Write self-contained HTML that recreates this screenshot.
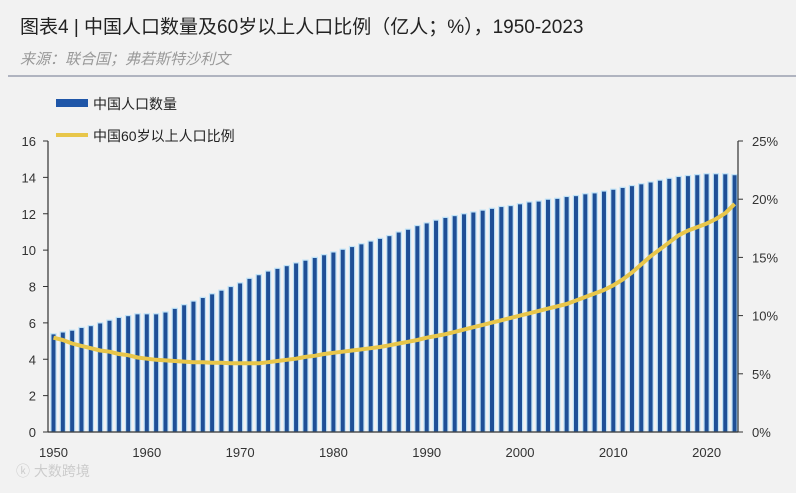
<!DOCTYPE html>
<html><head><meta charset="utf-8">
<style>
body{margin:0;background:#f2f2f2;font-family:"Liberation Sans","Noto Sans CJK SC",sans-serif;}
svg text{font-family:"Liberation Sans","Noto Sans CJK SC",sans-serif;}
</style></head>
<body>
<svg width="796" height="488" viewBox="0 0 796 488">
<rect width="796" height="488" fill="#f2f2f2"/>
<text x="20" y="33" font-size="19" fill="#222">图表4 | 中国人口数量及60岁以上人口比例（亿人；%），1950-2023</text>
<text x="20" y="64" font-size="15" fill="#999" font-style="italic">来源：联合国；弗若斯特沙利文</text>
<line x1="8" y1="76" x2="796" y2="76" stroke="#9aa0b0" stroke-width="1.5"/>
<g>
<rect x="56" y="99" width="32" height="8" fill="#1f56a8"/>
<text x="93" y="109" font-size="14" fill="#222">中国人口数量</text>
<rect x="56" y="133" width="32" height="4" fill="#e8c64a"/>
<text x="93" y="141" font-size="14" fill="#222">中国60岁以上人口比例</text>
</g>
<g id="plot"></g>
<text x="16" y="476" font-size="14" fill="#ccc">ⓚ 大数跨境</text>
</svg>
<script>
const years=[];for(let y=1950;y<=2023;y++)years.push(y);
const population=[5.4,5.5,5.6,5.75,5.85,6.0,6.15,6.3,6.4,6.5,6.5,6.5,6.6,6.8,7.0,7.2,7.4,7.6,7.8,8.0,8.2,8.45,8.65,8.85,9.0,9.15,9.3,9.45,9.6,9.75,9.9,10.05,10.2,10.35,10.5,10.65,10.8,11.0,11.15,11.35,11.5,11.65,11.8,11.9,12.0,12.1,12.2,12.3,12.4,12.45,12.55,12.65,12.7,12.8,12.85,12.95,13.0,13.1,13.15,13.25,13.35,13.45,13.55,13.65,13.75,13.85,13.95,14.05,14.1,14.15,14.2,14.2,14.2,14.15];
const ratio=[8.1,7.9,7.6,7.4,7.2,7.0,6.9,6.7,6.6,6.4,6.3,6.2,6.15,6.1,6.05,6.0,6.0,5.95,5.95,5.9,5.9,5.9,5.9,6.0,6.1,6.2,6.3,6.45,6.55,6.7,6.8,6.9,7.0,7.1,7.2,7.3,7.45,7.6,7.75,7.9,8.1,8.25,8.4,8.6,8.8,9.0,9.2,9.4,9.6,9.8,10.0,10.2,10.4,10.6,10.8,11.0,11.3,11.6,11.9,12.2,12.6,13.1,13.7,14.4,15.1,15.7,16.3,16.9,17.3,17.6,17.9,18.3,18.8,19.6];
const leftTicks=[0,2,4,6,8,10,12,14,16];
const rightTicks=[0,5,10,15,20,25];
const xTicks=[1950,1960,1970,1980,1990,2000,2010,2020];
const NS="http://www.w3.org/2000/svg";
const g=document.getElementById('plot');
const X0=48,X1=738,Y0=432,Y1=141;
const x=yr=>53.5+(yr-1950)*9.33;
const yL=v=>Y0-v/16*(Y0-Y1);
const yR=v=>Y0-v/25*(Y0-Y1);
function el(t,a){const e=document.createElementNS(NS,t);for(const k in a)e.setAttribute(k,a[k]);g.appendChild(e);return e;}
years.forEach((yr,i)=>{
 const r=el('rect',{x:x(yr)-2.6,y:yL(population[i]),width:5.2,height:Y0-yL(population[i]),fill:'#1f4f96',stroke:'#bfe2f7','stroke-width':1.2});
 
 
});
let d='';years.forEach((yr,i)=>{d+=(i?'L':'M')+x(yr).toFixed(1)+','+yR(ratio[i]).toFixed(1);});
const p=el('path',{d:d,fill:'none',stroke:'#e8c64a','stroke-width':4,'stroke-linejoin':'round'});


const la=el('line',{x1:X0,y1:Y1,x2:X0,y2:Y0,stroke:'#333','stroke-width':1.2});


const ra=el('line',{x1:X1,y1:Y1,x2:X1,y2:Y0,stroke:'#333','stroke-width':1.2});


const xa=el('line',{x1:X0,y1:Y0,x2:X1,y2:Y0,stroke:'#333','stroke-width':1.2});


leftTicks.forEach(v=>{
 el('line',{x1:X0-5,y1:yL(v),x2:X0,y2:yL(v),stroke:'#333'});
 const t=el('text',{x:X0-12,y:yL(v)+5,'font-size':13,fill:'#333','text-anchor':'end'});t.textContent=v;
 
 
});
rightTicks.forEach(v=>{
 el('line',{x1:X1,y1:yR(v),x2:X1+5,y2:yR(v),stroke:'#333'});
 const t=el('text',{x:X1+14,y:yR(v)+5,'font-size':13,fill:'#333'});t.textContent=v+'%';
 
 
});
xTicks.forEach(v=>{
 const t=el('text',{x:x(v),y:457,'font-size':13,fill:'#333','text-anchor':'middle'});t.textContent=v;
 
 
});
</script>
</body></html>
